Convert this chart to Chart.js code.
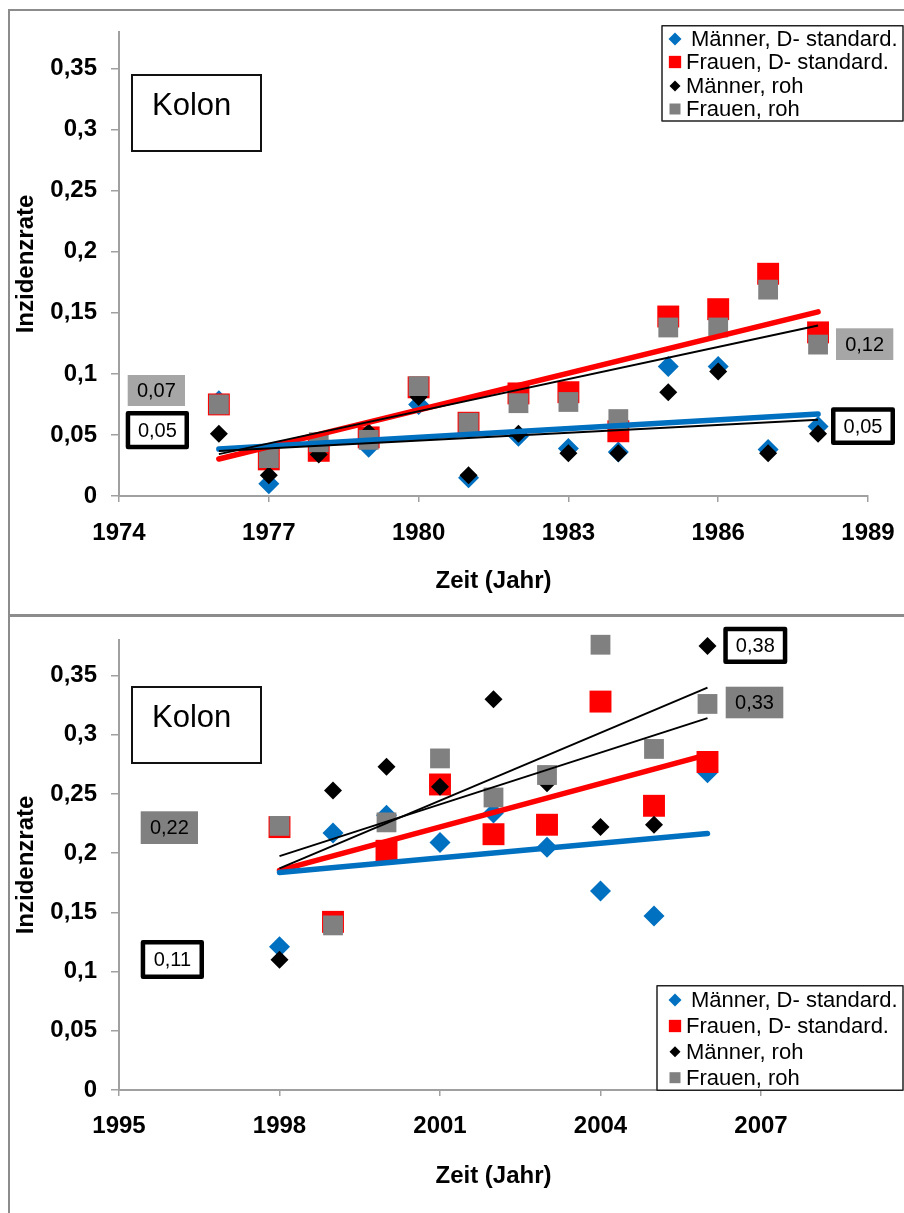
<!DOCTYPE html>
<html>
<head>
<meta charset="utf-8">
<script src="https://cdn.jsdelivr.net/npm/chart.js@4.4.0/dist/chart.umd.min.js"></script>
<style>
  html, body { margin: 0; padding: 0; background: #fff; overflow: hidden; }
  body { width: 904px; height: 1213px; position: relative; }
  .panel { position: absolute; left: 0; width: 904px; }
  #p1 { top: 0; height: 612px; }
  #p2 { top: 612px; height: 601px; }
  .frame { position: absolute; background: #8c8c8c; z-index: 2; }
</style>
</head>
<body>
<div class="panel" id="p1"><canvas id="c1" width="904" height="612"></canvas></div>
<div class="panel" id="p2"><canvas id="c2" width="904" height="601"></canvas></div>
<div class="frame" style="left:8px;top:9px;width:2px;height:1204px"></div>
<div class="frame" style="left:8px;top:9px;width:896px;height:2px"></div>
<div class="frame" style="left:8px;top:614px;width:896px;height:3px"></div>

<script>
// --- Daten oben (1976-1988)
const years1 = [1976, 1977, 1978, 1979, 1980, 1981, 1982, 1983, 1984, 1985, 1986, 1987, 1988];
const menStd1 = [0.078, 0.010, 0.037, 0.040, 0.075, 0.015, 0.049, 0.039, 0.036, 0.106, 0.106, 0.038, 0.057];
const womenStd1 = [0.075, 0.030, 0.037, 0.048, 0.089, 0.060, 0.084, 0.085, 0.053, 0.147, 0.153, 0.182, 0.134];
const menRaw1 = [0.051, 0.017, 0.034, 0.052, 0.081, 0.017, 0.051, 0.035, 0.035, 0.085, 0.102, 0.035, 0.051];
const womenRaw1 = [0.075, 0.031, 0.044, 0.046, 0.090, 0.060, 0.076, 0.077, 0.063, 0.138, 0.138, 0.169, 0.124];

// --- Daten unten (1998-2006)
const years2 = [1998, 1999, 2000, 2001, 2002, 2003, 2004, 2005, 2006];
const menStd2 = [0.121, 0.217, 0.232, 0.209, 0.234, 0.205, 0.168, 0.147, 0.268];
const womenStd2 = [0.222, 0.142, 0.202, 0.258, 0.216, 0.224, 0.328, 0.240, 0.277];
const menRaw2 = [0.110, 0.253, 0.273, 0.256, 0.330, 0.259, 0.222, 0.224, 0.375];
const womenRaw2 = [0.223, 0.139, 0.226, 0.280, 0.247, 0.266, 0.376, 0.288, 0.326];

const seriesNames = ["Männer, D- standard.", "Frauen, D- standard.", "Männer, roh", "Frauen, roh"];
const xTicks1 = [1974, 1977, 1980, 1983, 1986, 1989];
const xTicks2 = [1995, 1998, 2001, 2004, 2007];
const yTicks = [0, 0.05, 0.1, 0.15, 0.2, 0.25, 0.3, 0.35];

const BLUE = "#0070c0", RED = "#ff0000", BLACK = "#000000", GRAY = "#808080";
const AXIS = "#a0a0a0";
const FONT = "'Liberation Sans', Arial, sans-serif";

// lineare Trendlinie (kleinste Quadrate), wie in Excel
function fitLine(xs, ys) {
    const n = xs.length;
    const mx = xs.reduce((a, b) => a + b, 0) / n;
    const my = ys.reduce((a, b) => a + b, 0) / n;
    let sxy = 0, sxx = 0;
    for (let i = 0; i < n; i++) {
        sxy += (xs[i] - mx) * (ys[i] - my);
        sxx += (xs[i] - mx) * (xs[i] - mx);
    }
    const b = sxy / sxx;
    return [xs[0], xs[n - 1]].map(x => ({ x: x, y: my + b * (x - mx) }));
}

function pts(xs, ys) {
    return xs.map((x, i) => ({ x: x, y: ys[i] }));
}

// Beschriftungen / Kästen pro Diagramm
const decor = {
    c1: {
        legend: { x: 662, y: 25.7, w: 241, h: 95.3, rows: [39, 62, 86, 109] },
        boxes: [
            { text: "0,07", x: 127.7, y: 375, w: 57.3, h: 31, fill: "#a6a6a6" },
            { text: "0,05", x: 125.7, y: 411, w: 63.3, h: 38.3, fill: "#fff", border: true },
            { text: "0,12", x: 836, y: 328.3, w: 57.3, h: 31.7, fill: "#a6a6a6" },
            { text: "0,05", x: 831, y: 407.3, w: 64, h: 37.7, fill: "#fff", border: true }
        ]
    },
    c2: {
        legend: { x: 657, y: 373.7, w: 246, h: 104.6, rows: [388, 414, 439.7, 465.7] },
        boxes: [
            { text: "0,38", x: 723.3, y: 14.7, w: 64, h: 37.3, fill: "#fff", border: true },
            { text: "0,33", x: 725.7, y: 74.7, w: 57.6, h: 31.6, fill: "#808080" },
            { text: "0,22", x: 140.7, y: 199.3, w: 57.3, h: 32.7, fill: "#808080" },
            { text: "0,11", x: 140.7, y: 328, w: 63.3, h: 39, fill: "#fff", border: true }
        ]
    }
};

function drawMarker(ctx, style, x, y, color) {
    ctx.fillStyle = color;
    ctx.beginPath();
    if (style === "rectRot") {
        const r = color === BLUE ? 6.5 : 5.5;
        ctx.moveTo(x, y - r);
        ctx.lineTo(x + r, y);
        ctx.lineTo(x, y + r);
        ctx.lineTo(x - r, y);
        ctx.closePath();
    } else {
        const s = color === RED ? 12.3 : 11;
        ctx.rect(x - s / 2, y - s / 2, s, s);
    }
    ctx.fill();
}

const decorPlugin = {
    id: "decor",
    afterDraw(chart) {
        const d = decor[chart.canvas.id];
        if (!d) return;
        const ctx = chart.ctx;
        ctx.save();

        // "Kolon"
        ctx.lineWidth = 2;
        ctx.strokeStyle = "#111";
        ctx.fillStyle = "#fff";
        ctx.fillRect(132, 75, 129, 76);
        ctx.strokeRect(132, 75, 129, 76);
        ctx.fillStyle = "#000";
        ctx.font = "31px " + FONT;
        ctx.textAlign = "left";
        ctx.textBaseline = "middle";
        ctx.fillText("Kolon", 152, 106);

        // Wertekästen
        ctx.font = "20px " + FONT;
        ctx.textAlign = "center";
        d.boxes.forEach(b => {
            if (b.border) {
                const bw = 4.5;
                ctx.fillStyle = b.fill;
                ctx.fillRect(b.x, b.y, b.w, b.h);
                ctx.lineWidth = bw;
                ctx.lineJoin = "round";
                ctx.strokeStyle = "#000";
                ctx.strokeRect(b.x + bw / 2, b.y + bw / 2, b.w - bw, b.h - bw);
            } else {
                ctx.fillStyle = b.fill;
                ctx.fillRect(b.x, b.y, b.w, b.h);
            }
            ctx.fillStyle = "#000";
            ctx.fillText(b.text, b.x + b.w / 2, b.y + b.h / 2 + 1);
        });

        // Legende
        const lg = d.legend;
        ctx.fillStyle = "#fff";
        ctx.fillRect(lg.x, lg.y, lg.w, lg.h);
        ctx.lineWidth = 1.5;
        ctx.strokeStyle = "#222";
        ctx.strokeRect(lg.x, lg.y, lg.w, lg.h);
        ctx.font = "22px " + FONT;
        ctx.textAlign = "left";
        chart.data.datasets.filter(ds => !ds.trend).forEach((ds, i) => {
            const yy = lg.rows[i];
            drawMarker(ctx, ds.pointStyle, 675, yy, ds.backgroundColor);
            ctx.fillStyle = "#000";
            ctx.fillText(ds.label, i === 0 ? 691 : 686, yy + 1);
        });
        ctx.restore();
    }
};

function makeChart(id, years, menStd, womenStd, menRaw, womenRaw, xMin, xMax, xTicks, lay) {
    const tickFont = { family: FONT, size: 24, weight: "bold" };
    const titleFont = { family: FONT, size: 24, weight: "bold" };
    return new Chart(document.getElementById(id), {
        type: "scatter",
        data: {
            datasets: [
                { label: seriesNames[0], data: pts(years, menStd), pointStyle: "rectRot", pointRadius: 10.5,
                  backgroundColor: BLUE, borderWidth: 0, order: 5, clip: false },
                { label: seriesNames[1], data: pts(years, womenStd), pointStyle: "rect", pointRadius: 15.5,
                  backgroundColor: RED, borderWidth: 0, order: 4, clip: false },
                { label: seriesNames[2], data: pts(years, menRaw), pointStyle: "rectRot", pointRadius: 9,
                  backgroundColor: BLACK, borderWidth: 0, order: 3, clip: false },
                { label: seriesNames[3], data: pts(years, womenRaw), pointStyle: "rect", pointRadius: 14,
                  backgroundColor: GRAY, borderWidth: 0, order: 2, clip: false },
                { trend: true, data: fitLine(years, menStd), showLine: true, pointRadius: 0,
                  borderColor: BLUE, borderWidth: 5.5, borderCapStyle: "round", order: 1 },
                { trend: true, data: fitLine(years, womenStd), showLine: true, pointRadius: 0,
                  borderColor: RED, borderWidth: 5.5, borderCapStyle: "round", order: 1 },
                { trend: true, data: fitLine(years, menRaw), showLine: true, pointRadius: 0,
                  borderColor: BLACK, borderWidth: 2, order: 0 },
                { trend: true, data: fitLine(years, womenRaw), showLine: true, pointRadius: 0,
                  borderColor: BLACK, borderWidth: 2, order: 0 }
            ]
        },
        options: {
            responsive: false,
            animation: false,
            devicePixelRatio: 1,
            events: [],
            layout: { padding: { top: lay.top, right: 36, left: 0, bottom: 0 } },
            scales: {
                x: {
                    type: "linear",
                    min: xMin,
                    max: xMax,
                    bounds: "data",
                    afterBuildTicks: s => { s.ticks = xTicks.map(v => ({ value: v })); },
                    afterFit: s => { s.height = lay.xHeight; s.paddingLeft = 0; s.paddingRight = 0; },
                    ticks: { callback: v => String(v), font: tickFont, color: "#000",
                             padding: lay.xPad, maxRotation: 0, autoSkip: false },
                    grid: { drawOnChartArea: false, drawTicks: true, tickLength: 6, color: AXIS, lineWidth: 1.5 },
                    border: { color: AXIS, width: 2 },
                    title: { display: true, text: "Zeit (Jahr)", font: titleFont, color: "#000",
                             padding: { top: 0, bottom: lay.titlePad } }
                },
                y: {
                    type: "linear",
                    min: 0,
                    max: 0.38,
                    bounds: "data",
                    afterBuildTicks: s => { s.ticks = yTicks.map(v => ({ value: v })); },
                    afterFit: s => { s.width = 119; s.paddingTop = 0; s.paddingBottom = 0; },
                    ticks: { callback: v => String(v).replace(".", ","), font: tickFont, color: "#000", padding: 14 },
                    grid: { drawOnChartArea: false, drawTicks: true, tickLength: 8, color: AXIS, lineWidth: 1.5 },
                    border: { color: AXIS, width: 2 },
                    title: { display: true, text: "Inzidenzrate", font: titleFont, color: "#000",
                             padding: { top: 12, bottom: 0 } }
                }
            },
            plugins: {
                legend: { display: false },
                tooltip: { enabled: false }
            }
        },
        plugins: [decorPlugin]
    });
}

makeChart("c1", years1, menStd1, womenStd1, menRaw1, womenRaw1, 1974, 1989, xTicks1,
    { top: 32, xHeight: 116, xPad: 16.9, titlePad: 16 });
makeChart("c2", years2, menStd2, womenStd2, menRaw2, womenRaw2, 1995, 2009, xTicks2,
    { top: 28, xHeight: 123, xPad: 16, titlePad: 22.6 });
</script>
</body>
</html>
